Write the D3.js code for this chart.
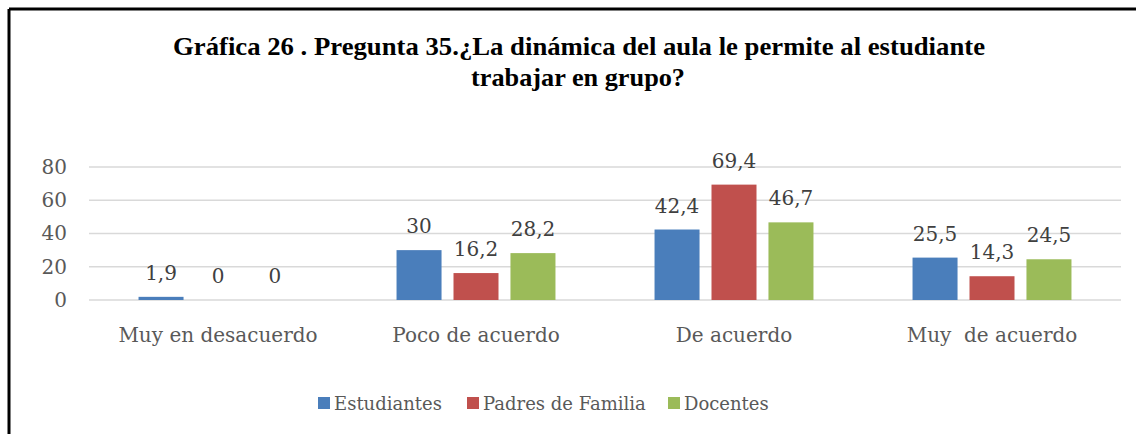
<!DOCTYPE html>
<html>
<head>
<meta charset="utf-8">
<script src="https://cdn.jsdelivr.net/npm/d3@7"></script>
<style>
  body { margin: 0; background: #fff; }
  svg { display: block; }
</style>
</head>
<body>
<svg id="chart" width="1136" height="434"></svg>
<script>
const categories = ['Muy en desacuerdo', 'Poco de acuerdo', 'De acuerdo', 'Muy  de acuerdo'];
const seriesNames = ['Estudiantes', 'Padres de Familia', 'Docentes'];
const estudiantes = [1.9, 30, 42.4, 25.5];
const padres = [0, 16.2, 69.4, 14.3];
const docentes = [0, 28.2, 46.7, 24.5];
const yTicks = [0, 20, 40, 60, 80];
const titleLines = ['Gráfica 26 . Pregunta 35.¿La dinámica del aula le permite al estudiante', 'trabajar en grupo?'];

const colors = ['#4a7ebb', '#c0504d', '#9bbb59'];
const values = [estudiantes, padres, docentes];

const svg = d3.select('#chart');

// marco (solo arriba e izquierda visibles)
svg.append('line')
    .attr('x1', 9).attr('y1', 9).attr('x2', 1136).attr('y2', 9)
    .attr('stroke', '#000').attr('stroke-width', 3);
svg.append('line')
    .attr('x1', 9).attr('y1', 9).attr('x2', 9).attr('y2', 434)
    .attr('stroke', '#000').attr('stroke-width', 3);

// titulo
const titleFont = '"Liberation Serif", "Times New Roman", serif';
svg.append('text')
    .attr('x', 579).attr('y', 55)
    .attr('text-anchor', 'middle')
    .attr('font-family', titleFont)
    .attr('font-weight', 'bold')
    .attr('font-size', 25)
    .attr('textLength', 812)
    .attr('lengthAdjust', 'spacingAndGlyphs')
    .attr('fill', '#000')
    .text(titleLines[0]);
svg.append('text')
    .attr('x', 578).attr('y', 86)
    .attr('text-anchor', 'middle')
    .attr('font-family', titleFont)
    .attr('font-weight', 'bold')
    .attr('font-size', 25)
    .attr('textLength', 214)
    .attr('lengthAdjust', 'spacingAndGlyphs')
    .attr('fill', '#000')
    .text(titleLines[1]);

const labelFont = '"DejaVu Serif", serif';

const x0 = d3.scaleBand()
    .domain(categories)
    .range([89, 1121]);

const x1 = d3.scaleBand()
    .domain(seriesNames)
    .range([x0.bandwidth() * 0.192, x0.bandwidth() * 0.808])
    .paddingInner(0.21);

const y = d3.scaleLinear()
    .domain([0, 80])
    .range([300, 167]);

// lineas de cuadricula
svg.append('g')
    .selectAll('line')
    .data(yTicks)
    .join('line')
    .attr('x1', 89).attr('x2', 1121)
    .attr('y1', d => y(d)).attr('y2', d => y(d))
    .attr('stroke', '#d9d9d9')
    .attr('stroke-width', 1.3);

// eje y
const yAxis = svg.append('g')
    .attr('transform', 'translate(67,0)')
    .call(d3.axisLeft(y).tickValues(yTicks).tickSize(0).tickPadding(0));
yAxis.select('.domain').remove();
yAxis.selectAll('text')
    .attr('font-family', labelFont)
    .attr('font-size', 20)
    .attr('fill', '#595959');

// eje x
const xAxis = svg.append('g')
    .attr('transform', 'translate(0,300)')
    .call(d3.axisBottom(x0).tickSize(0).tickPadding(28));
xAxis.select('.domain').remove();
xAxis.selectAll('text')
    .attr('font-family', labelFont)
    .attr('font-size', 20)
    .attr('fill', '#595959')
    .style('white-space', 'pre');

// barras
const rows = categories.map((c, i) => seriesNames.map((s, j) => ({ cat: c, name: s, value: values[j][i], color: colors[j] })));

const groups = svg.append('g')
    .selectAll('g')
    .data(rows)
    .join('g')
    .attr('transform', (d, i) => `translate(${x0(categories[i])},0)`);

groups.selectAll('rect')
    .data(d => d)
    .join('rect')
    .attr('x', d => x1(d.name))
    .attr('width', x1.bandwidth())
    .attr('y', d => y(d.value))
    .attr('height', d => y(0) - y(d.value))
    .attr('fill', d => d.color);

groups.selectAll('text')
    .data(d => d)
    .join('text')
    .attr('x', d => x1(d.name) + x1.bandwidth() / 2)
    .attr('y', d => y(d.value) - 17)
    .attr('text-anchor', 'middle')
    .attr('font-family', labelFont)
    .attr('font-size', 20)
    .attr('fill', '#404040')
    .text(d => String(d.value).replace('.', ','));

// leyenda
const legendX = [318, 467, 668];
const legend = svg.append('g')
    .selectAll('g')
    .data(seriesNames)
    .join('g')
    .attr('transform', (d, i) => `translate(${legendX[i]},397)`);
legend.append('rect')
    .attr('width', 12).attr('height', 12)
    .attr('fill', (d, i) => colors[i]);
legend.append('text')
    .attr('x', 16).attr('y', 13)
    .attr('font-family', labelFont)
    .attr('font-size', 18)
    .attr('fill', '#595959')
    .text(d => d);
</script>
</body>
</html>
